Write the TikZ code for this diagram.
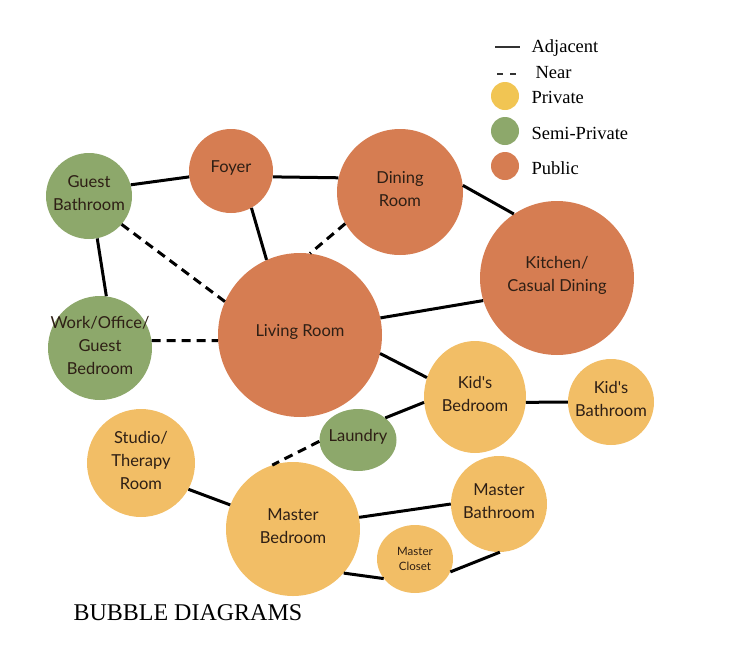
\documentclass[tikz,border=0pt]{standalone}
\usepackage{fontspec}
\setmainfont{Liberation Serif}
\newfontfamily\bubblefont{Lato}
\usetikzlibrary{shapes.geometric}
\definecolor{pub}{HTML}{D67D52}
\definecolor{semi}{HTML}{8DA86B}
\definecolor{priv}{HTML}{F2BE66}
\definecolor{privleg}{HTML}{F1C553}
\definecolor{txt}{HTML}{2E1F15}
\tikzset{
  lbl/.style={align=center, text=txt, inner sep=0pt, yshift=3pt, font=\bubblefont\fontsize{16.5}{23}\selectfont},
  smalllbl/.style={align=center, text=txt, inner sep=0pt, font=\bubblefont\fontsize{11.5}{15}\selectfont},
  bubble/.style={circle, inner sep=0pt, minimum size=2*#1},
  ellbubble/.style={ellipse, inner sep=0pt},
  adj/.style={line width=3pt, black},
  near/.style={line width=3pt, black, dash pattern=on 9pt off 6pt},
  legtext/.style={anchor=west, font=\fontsize{18.5}{21}\selectfont, text=black},
  legdot/.style={circle, inner sep=0pt, minimum size=28pt}
}
\begin{document}
\begin{tikzpicture}[x=1pt, y=-1pt]
\useasboundingbox (0,0) rectangle (732,670);
% bubbles
\node[bubble=43, fill=semi, label={[lbl]center:{Guest\\Bathroom}}] (gb) at (89,196) {};
\node[bubble=42, fill=pub, label={[lbl]center:{Foyer}}] (foyer) at (231,171) {};
\node[bubble=63, fill=pub, label={[lbl]center:{Dining\\Room}}] (dining) at (400,192) {};
\node[bubble=77, fill=pub, label={[lbl]center:{Kitchen/\\Casual Dining}}] (kitchen) at (557,278) {};
\node[bubble=82, fill=pub, label={[lbl]center:{Living Room}}] (living) at (300,335) {};
\node[bubble=52, fill=semi, label={[lbl]center:{Work/Office/\\Guest\\Bedroom}}] (work) at (100,348) {};
\node[ellbubble, fill=priv, minimum width=102pt, minimum height=112pt, label={[lbl]center:{Kid's\\Bedroom}}] (kbed) at (475,397) {};
\node[bubble=43, fill=priv, label={[lbl]center:{Kid's\\Bathroom}}] (kbath) at (611,402) {};
\node[ellbubble, fill=semi, minimum width=77pt, minimum height=62pt, label={[lbl]center:{Laundry}}] (laundry) at (358,440) {};
\node[bubble=54, fill=priv, label={[lbl]center:{Studio/\\Therapy\\Room}}] (studio) at (141,463) {};
\node[bubble=67, fill=priv, label={[lbl]center:{Master\\Bedroom}}] (mbed) at (293,529) {};
\node[bubble=48, fill=priv, label={[lbl]center:{Master\\Bathroom}}] (mbath) at (499,504) {};
\node[ellbubble, fill=priv, minimum width=76pt, minimum height=68pt, label={[smalllbl]center:{Master\\Closet}}] (closet) at (415,559) {};
% connectors
\draw[adj] (gb.15) -- (foyer.188);
\draw[adj] (foyer.352) -- (dining.167);
\draw[adj] (foyer.299) -- (living.114);
\draw[near] (dining.210) -- (living.83);
\draw[adj] (dining.6) -- (kitchen.124);
\draw[adj] (living.12) -- (kitchen.197);
\draw[near] (gb.319) -- (living.156);
\draw[adj] (gb.281) -- (work.83);
\draw[near] (work.8) -- (living.184);
\draw[adj] (living.347) -- (kbed.158);
\draw[adj] (kbed.354) -- (kbath.180);
\draw[adj] (laundry.39) -- (kbed.186);
\draw[near] (laundry.182) -- (mbed.108);
\draw[adj] (studio.331) -- (mbed.159);
\draw[adj] (mbed.10) -- (mbath.180);
\draw[adj] (mbed.319) -- (closet.212);
\draw[adj] (closet.340) -- (mbath.271);
% legend
\coordinate (la1) at (495,47);
\coordinate (la2) at (520,47);
\draw[line width=1.4pt, black!80] (la1) -- (la2);
\coordinate (ln1) at (497,74);
\coordinate (ln2) at (516,74);
\draw[line width=1.4pt, black!80, dash pattern=on 6pt off 7pt] (ln1) -- (ln2);
\node[legtext] (tadj) at (528,48) {Adjacent};
\node[legtext] (tnear) at (532,73) {Near};
\node[legdot, fill=privleg] (dpriv) at (505,96) {};
\node[legtext] (tpriv) at (528,97) {Private};
\node[legdot, fill=semi] (dsemi) at (505,131) {};
\node[legtext] (tsemi) at (528,133) {Semi-Private};
\node[legdot, fill=pub] (dpub) at (505,166) {};
\node[legtext] (tpub) at (528,168) {Public};
% title
\node[anchor=west, font=\fontsize{24}{27}\selectfont] (title) at (70,613) {BUBBLE DIAGRAMS};
\end{tikzpicture}
\end{document}
